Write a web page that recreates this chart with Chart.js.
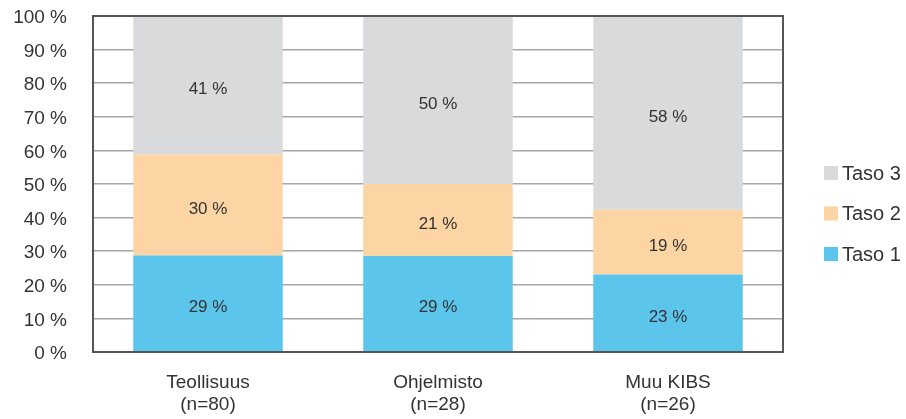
<!DOCTYPE html>
<html><head><meta charset="utf-8">
<script src="https://cdn.jsdelivr.net/npm/chart.js@4/dist/chart.umd.min.js"></script>
<style>html,body{margin:0;padding:0;background:#fff}#w{width:906px;height:419px}</style>
</head><body><div id="w"><canvas id="c"></canvas></div>
<script>
const categories = [["Teollisuus","(n=80)"],["Ohjelmisto","(n=28)"],["Muu KIBS","(n=26)"]];
const seriesNames = ["Taso 1","Taso 2","Taso 3"];
const taso1 = [28.75, 28.6, 23.1];
const taso2 = [30.0, 21.4, 19.2];
const taso3 = [41.25, 50.0, 57.7];
const yTicks = [0,10,20,30,40,50,60,70,80,90,100];
const colors = ["#5bc5ec","#fdd5a4","#d9dadc"];
const FONT = "'Liberation Sans', Arial, sans-serif";
const TXT = "#333";

const labelPlugin = {
  id: 'labels',
  afterDatasetsDraw(chart){
    const ctx = chart.ctx;
    ctx.save();
    ctx.font = "17px " + FONT;
    ctx.fillStyle = TXT;
    ctx.textAlign = 'center';
    ctx.textBaseline = 'middle';
    chart.data.datasets.forEach((ds, di) => {
      chart.getDatasetMeta(di).data.forEach((bar, i) => {
        const y = (bar.y + bar.base) / 2;
        ctx.fillText(Math.round(ds.data[i]) + " %", bar.x, y + 4);
      });
    });
    ctx.restore();
  },
  afterDraw(chart){
    const ctx = chart.ctx, a = chart.chartArea;
    ctx.save();
    ctx.strokeStyle = "#555";
    ctx.lineWidth = 2;
    ctx.strokeRect(a.left, a.top, a.right - a.left, a.bottom - a.top);
    // legend
    ctx.font = "20px " + FONT;
    ctx.textBaseline = 'middle';
    ctx.textAlign = 'left';
    const ys = [173, 213.5, 254];
    for (let k = 0; k < 3; k++) {
      const di = 2 - k;
      ctx.fillStyle = colors[di];
      ctx.fillRect(824, ys[k] - 7, 14, 14);
      ctx.fillStyle = TXT;
      ctx.fillText(seriesNames[di], 842, ys[k] + 1);
    }
    ctx.restore();
  }
};

new Chart(document.getElementById('c'), {
  type: 'bar',
  data: {
    labels: categories,
    datasets: [
      {label: seriesNames[0], data: taso1, backgroundColor: colors[0]},
      {label: seriesNames[1], data: taso2, backgroundColor: colors[1]},
      {label: seriesNames[2], data: taso3, backgroundColor: colors[2]}
    ]
  },
  options: {
    responsive: true, maintainAspectRatio: false, animation: false,
    layout: {padding: {top: 16, right: 123, left: 0, bottom: 0}},
    datasets: {bar: {barPercentage: 0.65, categoryPercentage: 1}},
    plugins: {legend: {display: false}, tooltip: {enabled: false}},
    scales: {
      x: {
        stacked: true,
        grid: {display: false, drawTicks: false},
        border: {display: false},
        ticks: {color: TXT, font: {family: FONT, size: 19, lineHeight: 1.2}, padding: 19},
        afterFit(s){ s.height = 67; s.paddingLeft = 0; s.paddingRight = 0; }
      },
      y: {
        stacked: true, min: 0, max: 100,
        afterBuildTicks(s){ s.ticks = yTicks.map(v => ({value: v})); },
        afterFit(s){ s.width = 93; s.paddingTop = 0; s.paddingBottom = 0; },
        grid: {color: "#a6a6a6", lineWidth: 1.5, drawTicks: false},
        border: {display: false},
        ticks: {color: TXT, font: {family: FONT, size: 19}, padding: 26, labelOffset: 2,
          callback: v => v + " %"}
      }
    }
  },
  plugins: [labelPlugin]
});
</script>
</body></html>
